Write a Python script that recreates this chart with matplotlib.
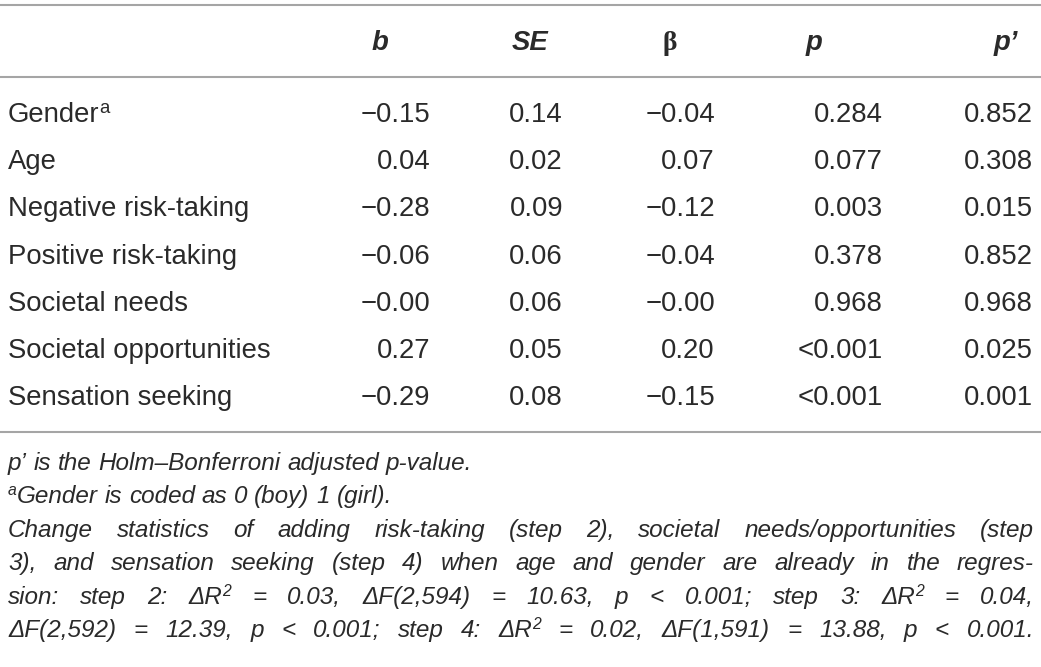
import matplotlib
matplotlib.use("Agg")
import matplotlib.pyplot as plt

# ---- data ----
headers = ["b", "SE", "β", "p", "p’"]
rows = ["Gender", "Age", "Negative risk-taking", "Positive risk-taking",
        "Societal needs", "Societal opportunities", "Sensation seeking"]
row_sup = ["a", "", "", "", "", "", ""]
b_vals = ["−0.15", "0.04", "−0.28", "−0.06", "−0.00", "0.27", "−0.29"]
se_vals = ["0.14", "0.02", "0.09", "0.06", "0.06", "0.05", "0.08"]
beta_vals = ["−0.04", "0.07", "−0.12", "−0.04", "−0.00", "0.20", "−0.15"]
p_vals = ["0.284", "0.077", "0.003", "0.378", "0.968", "<0.001", "<0.001"]
padj_vals = ["0.852", "0.308", "0.015", "0.852", "0.968", "0.025", "0.001"]

# footnote lines: list of runs (text, superscript?)
foot_lines = [
    ([("p’ is the Holm–Bonferroni adjusted p-value.", False)], False),
    ([("a", True), ("Gender is coded as 0 (boy) 1 (girl).", False)], False),
    ([("Change statistics of adding risk-taking (step 2), societal needs/opportunities (step", False)], True),
    ([("3), and sensation seeking (step 4) when age and gender are already in the regres-", False)], True),
    ([("sion: step 2: ΔR", False), ("2", True), (" = 0.03, ΔF(2,594) = 10.63, p < 0.001; step 3: ΔR", False),
      ("2", True), (" = 0.04,", False)], True),
    ([("ΔF(2,592) = 12.39, p < 0.001; step 4: ΔR", False), ("2", True),
      (" = 0.02, ΔF(1,591) = 13.88, p < 0.001.", False)], True),
]

# ---- layout ----
W, H = 1041, 667
TXT = "#2a2a2a"
LINE = "#a5a5a5"
FONT = ["Liberation Sans", "DejaVu Sans"]
fs_body = 19.8
fs_foot = 17.5

fig = plt.figure(figsize=(W / 100, H / 100), dpi=100)
ax = fig.add_axes([0, 0, 1, 1])
ax.set_xlim(0, W)
ax.set_ylim(H, 0)
ax.axis("off")
renderer = fig.canvas.get_renderer()

for y in (5, 77, 432):
    ax.plot([0, W], [y, y], color=LINE, lw=1.5, solid_capstyle="butt")

header_x = [380, 530, 670, 814, 1006]
header_y = 50
for h, x in zip(headers, header_x):
    if h == "β":
        ax.text(x, header_y, h, ha="center", va="baseline", fontsize=fs_body,
                family=["Liberation Serif", "DejaVu Serif"], weight="bold", color=TXT)
    else:
        ax.text(x, header_y, h, ha="center", va="baseline", fontsize=fs_body,
                family=FONT, weight="bold", style="italic", color=TXT)

col_right = [430, 563, 715, 883, 1033]
cols = [b_vals, se_vals, beta_vals, p_vals, padj_vals]
row_y0, row_dy = 122, 47.2
for i, name in enumerate(rows):
    y = row_y0 + i * row_dy
    t = ax.text(8, y, name, ha="left", va="baseline", fontsize=fs_body,
                family=FONT, color=TXT)
    if row_sup[i]:
        bb = t.get_window_extent(renderer)
        ax.text(8 + bb.width, y - 9, row_sup[i], ha="left", va="baseline",
                fontsize=fs_body * 0.68, family=FONT, color=TXT)
    for vals, xr in zip(cols, col_right):
        ax.text(xr, y, vals[i], ha="right", va="baseline", fontsize=fs_body,
                family=FONT, color=TXT)

# ---- footnotes with justification ----
def make_words(runs):
    words = [[]]
    for text, sup in runs:
        parts = text.split(" ")
        for k, part in enumerate(parts):
            if k > 0:
                words.append([])
            if part:
                words[-1].append((part, sup))
    return [w for w in words if w]

def run_width(text, sup):
    fsz = fs_foot * (0.65 if sup else 1.0)
    t = ax.text(0, 0, text, fontsize=fsz, family=FONT, style="italic")
    w = t.get_window_extent(renderer).width
    t.remove()
    return w

space_w = run_width("a a", False) - 2 * run_width("a", False)
x0, x1 = 8, 1034
foot_y0, foot_dy = 470, 33.4
for li, (runs, justify) in enumerate(foot_lines):
    y = foot_y0 + li * foot_dy
    words = make_words(runs)
    widths = [sum(run_width(t, s) for t, s in w) for w in words]
    if justify and len(words) > 1:
        gap = (x1 - x0 - sum(widths)) / (len(words) - 1)
    else:
        gap = space_w
    x = x0
    for w, ww in zip(words, widths):
        xx = x
        for t, s in w:
            fsz = fs_foot * (0.65 if s else 1.0)
            ax.text(xx, y - (8 if s else 0), t, ha="left", va="baseline", fontsize=fsz,
                    family=FONT, style="italic", color=TXT)
            xx += run_width(t, s)
        x += ww + gap

fig.savefig("out.png", dpi=100)
